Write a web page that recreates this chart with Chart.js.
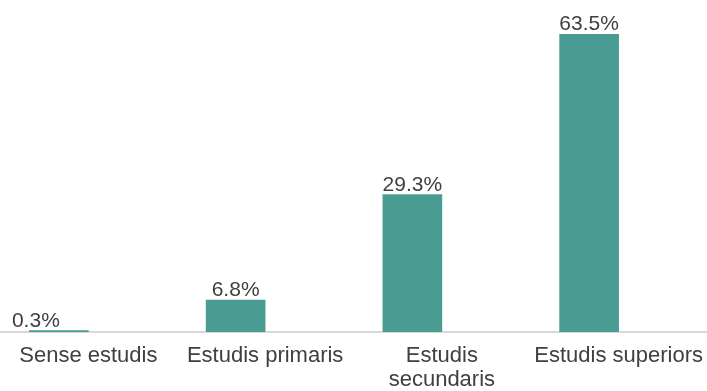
<!DOCTYPE html>
<html>
<head>
<meta charset="utf-8">
<script src="https://cdn.jsdelivr.net/npm/chart.js@4"></script>
<style>
	body { margin: 0; background: #fff; }
</style>
</head>
<body>
<canvas id="levelChart" width="707" height="391"></canvas>
<script>
// Nivell d'estudis (%)
const categories = ['Sense estudis', 'Estudis primaris', ['Estudis', 'secundaris'], 'Estudis superiors'];
const shares = [0.3, 6.8, 29.3, 63.5];
const emptySeries = [null, null, null, null]; // second slot in each group, left blank

const barColor = '#4a9b92';
const textColor = '#404040';
const fontFamily = 'Arial, "Liberation Sans", sans-serif';

// value labels above each bar
const valueLabels = {
	id: 'valueLabels',
	afterDatasetsDraw(chart) {
		const ctx = chart.ctx;
		const meta = chart.getDatasetMeta(0);
		ctx.save();
		ctx.font = '21px ' + fontFamily;
		ctx.fillStyle = textColor;
		ctx.textAlign = 'center';
		ctx.textBaseline = 'alphabetic';
		meta.data.forEach((bar, i) => {
			const nudge = i === 0 ? -23 : 0; // first label sits a little to the left
			ctx.fillText(shares[i].toFixed(1) + '%', bar.x + nudge, bar.y - 4);
		});
		ctx.restore();
	}
};

new Chart(document.getElementById('levelChart'), {
	type: 'bar',
	data: {
		labels: categories,
		datasets: [
			{
				data: shares,
				backgroundColor: barColor,
				barThickness: 59
			},
			{
				data: emptySeries,
				backgroundColor: barColor,
				barThickness: 59
			}
		]
	},
	options: {
		responsive: false,
		animation: false,
		devicePixelRatio: 1,
		layout: {
			padding: 0
		},
		plugins: {
			legend: { display: false },
			tooltip: { enabled: false }
		},
		scales: {
			x: {
				grid: { display: false, drawTicks: false },
				border: { display: true, color: '#d9d9d9', width: 2 },
				ticks: {
					color: textColor,
					padding: 12,
					maxRotation: 0,
					autoSkip: false,
					font: { family: fontFamily, size: 22, lineHeight: '24px' }
				},
				afterFit(scale) {
					// keep the axis the full canvas width and a fixed height
					scale.height = 59;
					scale.paddingLeft = 0;
					scale.paddingRight = 0;
				}
			},
			y: {
				display: false,
				min: 0,
				max: 70.8
			}
		}
	},
	plugins: [valueLabels]
});
</script>
</body>
</html>
